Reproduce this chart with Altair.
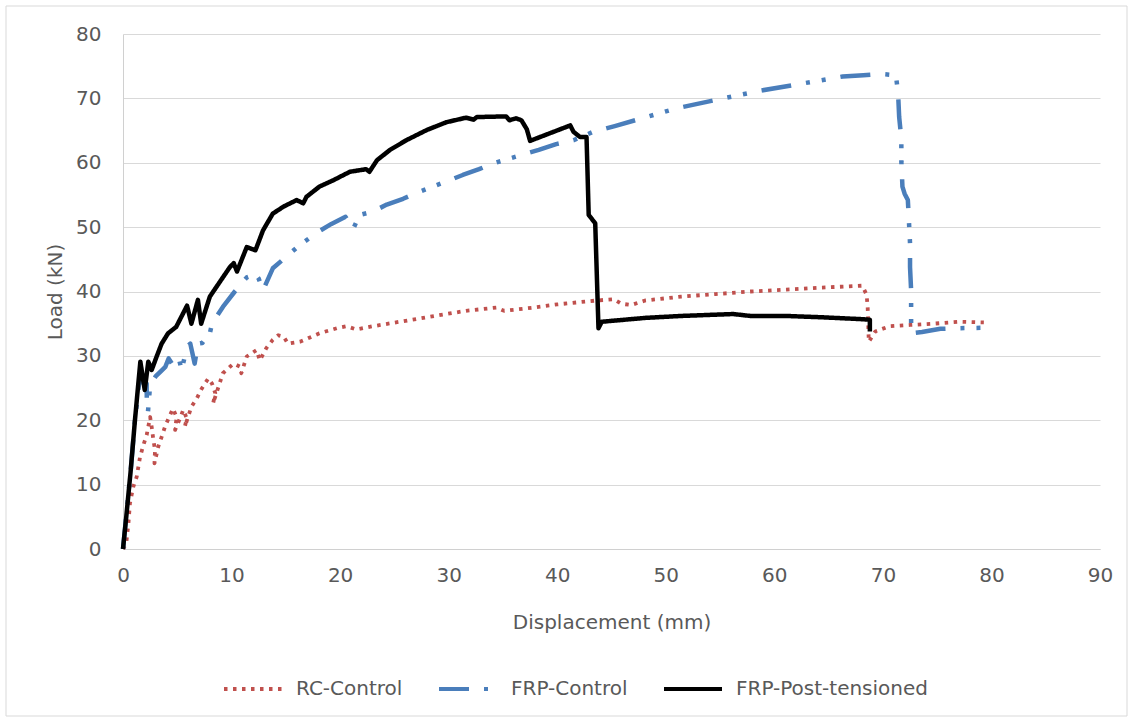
import altair as alt
import pandas as pd

# Load–displacement records for the three beam specimens (mm, kN)
series_names = ["RC-Control", "FRP-Control", "FRP-Post-tensioned"]

rc_disp = [0, 0.3, 0.5, 0.64, 0.95, 1.26, 1.57, 1.87, 2.18, 2.5, 2.64, 2.8, 2.95, 2.9, 3.25,
           3.56, 3.87, 4.2, 4.6, 4.94, 4.8, 5.25, 5.55, 5.87, 5.7, 6.3, 6.8, 7.25, 7.55, 7.86,
           8.2, 8.5, 8.3, 9.2, 9.85, 10.2, 10.8, 10.9, 11.4, 12.3, 12.6, 13.2, 13.8, 14.3, 14.8,
           15.2, 16.3, 18.1, 19.7, 20.6, 21.5, 23.0, 25.5, 28.7, 31.6, 34.4, 35.1, 37.8, 40.0,
           43.6, 45.2, 45.9, 46.8, 48.1, 51.4, 54.6, 57.8, 61.1, 64.3, 68.1, 68.5, 68.6, 68.7,
           69.3, 70.6, 72.5, 74.6, 77.1, 79.3]
rc_load = [0, 0.9, 4, 7.1, 9.7, 11.2, 14.3, 16.1, 17.7, 20.5, 19, 16.9, 15.4, 13.3, 15.9,
           17.4, 19, 20.3, 21.8, 20.5, 18.5, 20.3, 21.6, 20.3, 19, 22.1, 23.4, 24.9, 25.7, 26.5,
           25.7, 24.2, 22.6, 27.3, 28.3, 28.8, 28.3, 27.3, 29.9, 30.9, 29.3, 31.2, 32.5, 33.2, 33.0,
           31.9, 32.2, 33.5, 34.3, 34.6, 34.1, 34.6, 35.3, 36.2, 37.0, 37.5, 37.0, 37.5, 38.0,
           38.6, 38.8, 38.1, 37.9, 38.6, 39.2, 39.6, 40.0, 40.3, 40.6, 40.9, 39.5, 37.5, 32.2,
           33.8, 34.6, 34.8, 35.0, 35.3, 35.2]

frp_disp = [0, 0.7, 1.1, 1.5, 2.18, 2.2, 2.3, 2.5, 3.0, 3.6, 3.9, 4.2, 4.5, 5.1, 5.4,
            5.9, 6.2, 6.6, 6.9, 7.3, 8.0, 8.2, 9.2, 10.3, 11.4, 12.2, 12.5, 12.9, 13.8, 14.9,
            16.2, 18.0, 19.2, 20.5, 21.2, 21.8, 23.0, 24.3, 25.8, 27.3, 29.8, 31.3, 32.8, 34.1,
            36.7, 38.3, 39.9, 41.5, 43.3, 45.3, 51.1, 55.0, 58.7, 63.6, 66.3, 68.2, 69.7, 71.2,
            71.4, 71.5, 71.7, 71.7, 71.8, 72.0, 72.3, 72.4, 72.5, 72.5, 72.6, 72.6, 73.6, 75.3,
            77.0, 80.3]
frp_load = [0, 12, 20, 26, 25.7, 21.6, 21.3, 25.5, 26.8, 27.8, 28.3, 29.6, 28.8, 29.9, 27.8,
            31.4, 31.9, 28.8, 31.9, 32.0, 33.5, 35.0, 37.6, 40.0, 42.2, 42.7, 42.0, 40.2, 43.6, 45.2,
            47.1, 49.3, 50.5, 51.6, 49.7, 51.9, 52.4, 53.5, 54.4, 55.5, 57.1, 58.1, 59.0, 59.9,
            61.2, 62.0, 62.9, 63.5, 64.8, 65.7, 68.5, 69.9, 71.2, 72.6, 73.4, 73.6, 73.8, 73.6,
            70.8, 67.1, 63.7, 60.2, 56.3, 55.2, 54.2, 50.9, 47.5, 43.8, 40.2, 33.5, 33.7, 34.2,
            34.3, 34.4]

pt_disp = [0, 0.3, 0.7, 1.1, 1.4, 1.6, 2.0, 2.33, 2.64, 3.1, 3.56, 4.15, 4.9, 5.9, 6.3,
           6.9, 7.2, 8.0, 8.6, 9.85, 10.2, 10.5, 11.4, 12.2, 12.9, 13.8, 14.8, 16.0, 16.6, 16.9,
           18.1, 19.4, 20.9, 22.4, 22.7, 23.4, 24.6, 26.1, 28.0, 29.8, 31.6, 32.3, 32.6, 35.3,
           35.6, 36.2, 36.7, 37.2, 37.5, 41.2, 41.5, 42.1, 42.7, 42.9, 43.5, 43.8, 44.1, 48.1,
           51.4, 56.2, 57.8, 61.1, 64.3, 68.1, 68.8, 68.8]
pt_load = [0, 5, 12, 20, 25.5, 29.1, 24.7, 29.1, 27.8, 29.9, 31.9, 33.5, 34.5, 37.8, 35.0,
           38.7, 35.0, 39.2, 40.7, 43.8, 44.4, 43.1, 46.9, 46.4, 49.5, 52.1, 53.2, 54.2, 53.7, 54.7,
           56.3, 57.3, 58.6, 59.0, 58.6, 60.4, 62.0, 63.5, 65.1, 66.3, 67.0, 66.7, 67.1, 67.2,
           66.6, 66.9, 66.6, 65.2, 63.4, 65.8, 64.8, 64.0, 64.0, 51.9, 50.6, 34.3, 35.3, 35.9,
           36.2, 36.5, 36.2, 36.2, 36.0, 35.7, 35.6, 33.8]

x_ticks = list(range(0, 91, 10))
y_ticks = list(range(0, 81, 10))

frames = []
for name, xs, ys in zip(series_names, [rc_disp, frp_disp, pt_disp], [rc_load, frp_load, pt_load]):
    frames.append(pd.DataFrame({"disp": xs, "load": ys, "series": name, "step": range(len(xs))}))
df = pd.concat(frames, ignore_index=True)

FONT = "DejaVu Sans"
TEXT = "#595959"

color_scale = alt.Scale(domain=series_names, range=["#C0504D", "#4A7EBB", "#000000"])
# square dots for RC, long dash–dot–dot for FRP, solid for post-tensioned
dash_scale = alt.Scale(domain=series_names,
                       range=[[3.5, 5.5], [30, 15, 4, 12, 4, 15], [1, 0]])

legend = alt.Legend(title=None, orient="none", legendX=99, legendY=624,
                    direction="horizontal", symbolType="stroke", symbolSize=3364,
                    symbolStrokeWidth=4, labelFont=FONT, labelFontSize=20, labelColor=TEXT,
                    labelOffset=12, columnPadding=28, padding=0, labelLimit=400)

x_enc = alt.X("disp:Q", scale=alt.Scale(domain=[0, 90], nice=False),
              axis=alt.Axis(values=x_ticks, grid=False, ticks=False, labelFlush=False,
                            domainColor="#D0D0D0", labelColor=TEXT, labelFont=FONT,
                            labelFontSize=20, labelPadding=16, title="Displacement (mm)",
                            titleFont=FONT, titleFontSize=20, titleFontWeight="normal",
                            titleColor=TEXT, titlePadding=27))
y_enc = alt.Y("load:Q", scale=alt.Scale(domain=[0, 80], nice=False),
              axis=alt.Axis(values=y_ticks, grid=True, gridColor="#D9D9D9", ticks=False,
                            domainColor="#D0D0D0", labelColor=TEXT, labelFont=FONT,
                            labelFontSize=20, labelPadding=22, labelFlush=False,
                            title="Load (kN)", titleFont=FONT, titleFontSize=20,
                            titleFontWeight="normal", titleColor=TEXT, titlePadding=10))


def curve(name, width):
    return alt.Chart(df).transform_filter(alt.datum.series == name).mark_line(
        strokeWidth=width, strokeJoin="round"
    ).encode(
        x=x_enc,
        y=y_enc,
        color=alt.Color("series:N", scale=color_scale, legend=legend),
        strokeDash=alt.StrokeDash("series:N", scale=dash_scale, legend=legend),
        order="step:Q",
    )


# light frame around the whole chart area
frame = alt.Chart(alt.Data(values=[{}])).mark_rect(
    fillOpacity=0, stroke="#D9D9D9", strokeWidth=1
).encode(x=alt.value(-117), x2=alt.value(1004), y=alt.value(-28), y2=alt.value(682))

chart = alt.layer(
    frame,
    curve("RC-Control", 3.8),
    curve("FRP-Control", 4.5),
    curve("FRP-Post-tensioned", 4.5),
).properties(
    width=977, height=515,
    autosize=alt.AutoSizeParams(type="none"),
    padding={"left": 123, "top": 34, "right": 32, "bottom": 173},
    background="white",
).configure_view(stroke=None)

chart.save("out.html", embed_options={"renderer": "svg", "actions": False})
